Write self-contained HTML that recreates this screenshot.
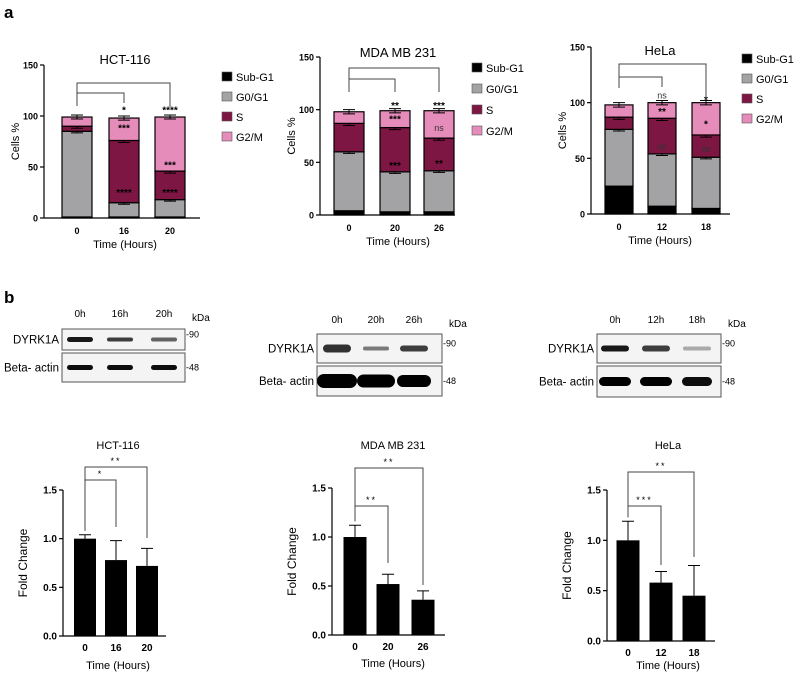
<!DOCTYPE html>
<html><head><meta charset="utf-8"><style>
html,body{margin:0;padding:0;background:#fff;}
svg{display:block;font-family:"Liberation Sans",sans-serif;}
</style></head><body>
<svg id="fig" width="800" height="676" viewBox="0 0 800 676" xmlns="http://www.w3.org/2000/svg">
<text x="4" y="18" font-size="17" font-weight="bold">a</text>
<text x="4" y="303" font-size="17" font-weight="bold">b</text>
<g id="blots"></g>
</svg>
<script>
// ---------- data: panel a (cell cycle %) ----------
const hctCats=["0","16","20"];
const hctSub=[1,1,1];
const hctG0=[84,14,17];
const hctS=[5,61,28];
const hctG2=[9,22,53];
const mdaCats=["0","20","26"];
const mdaSub=[4,3,3];
const mdaG0=[56,38,39];
const mdaS=[27,42,31];
const mdaG2=[11,16,26];
const helaCats=["0","12","18"];
const helaSub=[25,7,5];
const helaG0=[51,47,46];
const helaS=[11,32,20];
const helaG2=[11,14,29];
const stackErr=[1,1.5,2,2];
const stackTicks=[0,50,100,150];
const phaseNames=["Sub-G1","G0/G1","S","G2/M"];
// annotations: [barIndex, value, text]
const hctAnn=[[1,106,"*"],[2,106,"****"],[1,88,"***"],[1,25,"****"],[2,52,"***"],[2,25,"****"]];
const mdaAnn=[[1,104,"**"],[2,104,"***"],[1,91,"***"],[1,47,"***"],[2,83,"ns"],[2,49,"**"]];
const helaAnn=[[1,107,"ns"],[2,103,"*"],[1,92,"**"],[1,61,"ns"],[2,81,"*"],[2,59,"ns"]];
// ---------- data: panel b (fold change) ----------
const fcTicks=[0,0.5,1.0,1.5];
const hctFC=[1.0,0.78,0.72];
const hctFCerr=[0.04,0.2,0.18];
const mdaFC=[1.0,0.52,0.36];
const mdaFCerr=[0.12,0.1,0.09];
const helaFC=[1.0,0.58,0.45];
const helaFCerr=[0.19,0.11,0.3];

const NS="http://www.w3.org/2000/svg";
const svg=document.getElementById('fig');
function mk(tag,attrs,parent){const e=document.createElementNS(NS,tag);for(const k in attrs)e.setAttribute(k,attrs[k]);(parent||svg).appendChild(e);return e;}
function txt(s,attrs,parent){const e=mk('text',attrs,parent);e.textContent=s;return e;}
const colors=["#000000","#a3a3a5","#7d1642","#e68cba"];

function stacked(o){
  const g=mk('g',{});
  
  
  const ys=v=>o.y0-(v/150)*(o.y0-o.y150);
  const ya=mk('line',{x1:o.ax,y1:o.y150,x2:o.ax,y2:o.y0,stroke:'#000','stroke-width':1.2},g);
  
  const xa=mk('line',{x1:o.ax,y1:o.y0,x2:o.axEnd,y2:o.y0,stroke:'#000','stroke-width':1.2},g);
  
  stackTicks.forEach(t=>{
    const l=mk('line',{x1:o.ax-4,y1:ys(t),x2:o.ax,y2:ys(t),stroke:'#000','stroke-width':1.2},g);
    
    const tl=txt(String(t),{x:o.ax-6,y:ys(t)+3.5,'font-size':9,'font-weight':'bold','text-anchor':'end'},g);
    
  });
  const series=[o.sub,o.g0,o.s,o.g2];
  o.cats.forEach((c,i)=>{
    let base=0;
    const cx=o.centers[i];
    series.forEach((ser,k)=>{
      const top=base+ser[i];
      const r=mk('rect',{x:cx-o.bw/2,y:ys(top),width:o.bw,height:ys(base)-ys(top),fill:colors[k],stroke:'#000','stroke-width':1.2},g);
      
      
      const e=stackErr[k];
      const eb=mk('path',{d:`M${cx},${ys(top-e)}V${ys(top+e)}M${cx-6},${ys(top+e)}H${cx+6}M${cx-6},${ys(top-e)}H${cx+6}`,stroke:'#000','stroke-width':1,fill:'none'},g);
      
      base=top;
    });
    const xl=txt(c,{x:cx,y:o.y0+16,'font-size':9,'font-weight':'bold','text-anchor':'middle'},g);
    
  });
  o.ann.forEach(a=>{
    const t=txt(a[2],{x:o.centers[a[0]],y:ys(a[1])+3.5,'font-size':a[2]==='ns'?9:10,'font-weight':a[2]==='ns'?'normal':'bold','text-anchor':'middle',fill:a[2]==='ns'?'#333':'#000'},g);
    
  });
  const c0=o.centers[0],c1=o.centers[1],c2=o.centers[2];
  const b1=mk('path',{d:`M${c0},${o.br[2]}V${o.br[0]}H${c2}V${o.br[3]}`,stroke:'#444','stroke-width':1,fill:'none'},g);
  
  const b2=mk('path',{d:`M${c0},${o.br[2]}V${o.br[1]}H${c1}V${o.br[4]}`,stroke:'#444','stroke-width':1,fill:'none'},g);
  
  const ti=txt(o.title,{x:o.tx,y:o.ty,'font-size':13,'text-anchor':'middle'},g);
  
  const xt=txt('Time (Hours)',{x:o.tx,y:o.y0+30,'font-size':11,'text-anchor':'middle'},g);
  
  const yt=txt('Cells %',{x:0,y:0,'font-size':11,'text-anchor':'middle',transform:`translate(${o.ax-25},${(o.y0+o.y150)/2}) rotate(-90)`},g);
  
  phaseNames.forEach((n,k)=>{
    const ly=o.ly+k*o.lstep;
    const lg=mk('g',{},g);
    
    
    mk('rect',{x:o.lx,y:ly-5,width:10,height:9,fill:colors[k],stroke:'#555','stroke-width':0.6},lg);
    txt(n,{x:o.lx+14,y:ly+4,'font-size':11},lg);
  });
}
stacked({name:'chart-hct116-cell-cycle',title:'HCT-116',cats:hctCats,sub:hctSub,g0:hctG0,s:hctS,g2:hctG2,ann:hctAnn,
  ax:44,axEnd:200,y0:218,y150:65,centers:[77,124,170],bw:30,tx:125,ty:64,lx:222,ly:77,lstep:20,br:[83,93,106,107,103]});
stacked({name:'chart-mda-cell-cycle',title:'MDA MB 231',cats:mdaCats,sub:mdaSub,g0:mdaG0,s:mdaS,g2:mdaG2,ann:mdaAnn,
  ax:320,axEnd:455,y0:215,y150:57,centers:[349,395,439],bw:30,tx:398,ty:57,lx:472,ly:68,lstep:21,br:[68,79,92,92,92]});
stacked({name:'chart-hela-cell-cycle',title:'HeLa',cats:helaCats,sub:helaSub,g0:helaG0,s:helaS,g2:helaG2,ann:helaAnn,
  ax:591,axEnd:730,y0:214,y150:47,centers:[619,662,706],bw:28,tx:660,ty:55,lx:742,ly:59,lstep:20,br:[64,77,88,100,87]});

function fold(o){
  const g=mk('g',{});
  
  
  const ys=v=>o.y0-(v/1.5)*(o.y0-o.y15);
  const ya=mk('line',{x1:o.ax,y1:o.y15,x2:o.ax,y2:o.y0,stroke:'#000','stroke-width':1.2},g);
  
  const xa=mk('line',{x1:o.ax,y1:o.y0,x2:o.axEnd,y2:o.y0,stroke:'#000','stroke-width':1.2},g);
  
  fcTicks.forEach(t=>{
    const l=mk('line',{x1:o.ax-4,y1:ys(t),x2:o.ax,y2:ys(t),stroke:'#000','stroke-width':1.2},g);
    
    const tl=txt(t.toFixed(1),{x:o.ax-6,y:ys(t)+3.5,'font-size':10,'font-weight':'bold','text-anchor':'end'},g);
    
  });
  o.cats.forEach((c,i)=>{
    const cx=o.centers[i];
    const v=o.vals[i],e=o.errs[i];
    const eb=mk('path',{d:`M${cx},${ys(v)}V${ys(v+e)}M${cx-6},${ys(v+e)}H${cx+6}`,stroke:'#000','stroke-width':1,fill:'none'},g);
    
    const r=mk('rect',{x:cx-o.bw/2,y:ys(v),width:o.bw,height:ys(0)-ys(v),fill:'#000'},g);
    
    const xl=txt(c,{x:cx,y:o.y0+15,'font-size':10,'font-weight':'bold','text-anchor':'middle'},g);
    
  });
  const c0=o.centers[0],c1=o.centers[1],c2=o.centers[2];
  const left=ys(o.vals[0]+o.errs[0])-4;
  const b1=mk('path',{d:`M${c0},${left}V${o.br[0]}H${c2}V${o.br[2]}`,stroke:'#444','stroke-width':1,fill:'none'},g);
  
  const b2=mk('path',{d:`M${c0},${left}V${o.br[1]}H${c1}V${o.br[3]}`,stroke:'#444','stroke-width':1,fill:'none'},g);
  
  const s1=txt(o.stars[0],{x:(c0+c2)/2,y:o.br[0]-3,'font-size':9,'text-anchor':'middle','letter-spacing':2},g);
  
  const s2=txt(o.stars[1],{x:(c0+c1)/2,y:o.br[1]-3,'font-size':9,'text-anchor':'middle','letter-spacing':2},g);
  
  const ti=txt(o.title,{x:o.tx,y:o.ty,'font-size':11,'text-anchor':'middle'},g);
  
  const xt=txt('Time (Hours)',{x:o.tx,y:o.xty,'font-size':11,'text-anchor':'middle'},g);
  
  const yt=txt('Fold Change',{x:0,y:0,'font-size':12,'text-anchor':'middle',transform:`translate(${o.ax-36},${(o.y0+o.y15)/2}) rotate(-90)`},g);
  
}
fold({name:'chart-hct116-fold-change',title:'HCT-116',cats:hctCats,vals:hctFC,errs:hctFCerr,ax:63,axEnd:166,y0:636,y15:490,centers:[85,116,147],bw:22,tx:118,ty:449,xty:669,br:[467,480,538,527],stars:['**','*']});
fold({name:'chart-mda-fold-change',title:'MDA MB 231',cats:mdaCats,vals:mdaFC,errs:mdaFCerr,ax:332,axEnd:445,y0:635,y15:488,centers:[355,388,423],bw:23,tx:393,ty:449,xty:667,br:[468,506,585,563],stars:['**','**']});
fold({name:'chart-hela-fold-change',title:'HeLa',cats:helaCats,vals:helaFC,errs:helaFCerr,ax:607,axEnd:715,y0:641,y15:490,centers:[628,661,694],bw:23,tx:668,ty:449,xty:669,br:[472,506,557,565],stars:['**','***']});

// ---------- western blots ----------
const blotG=document.getElementById('blots');
function blot(o){
  const g=mk('g',{},blotG);
  
  
  const w=o.x2-o.x1;
  [[o.b1y1,o.b1y2,'DYRK1A',o.dyrk,'-90'],[o.b2y1,o.b2y2,'Beta- actin',o.actin,'-48']].forEach((row,ri)=>{
    const box=mk('rect',{x:o.x1,y:row[0],width:w,height:row[1]-row[0],fill:'#f4f4f4',stroke:'#555','stroke-width':1},g);
    
    const my=(row[0]+row[1])/2;
    row[3].forEach((b,i)=>{
      const band=mk('rect',{x:o.lanes[i]-b[1]/2,y:my-b[2]/2,width:b[1],height:b[2],rx:b[2]/2,fill:'#000','fill-opacity':b[0]},g);
      
    });
    const lab=txt(row[2],{x:o.x1-3,y:my+4,'font-size':11.5,'text-anchor':'end'},g);
    
    const kd=txt(row[4],{x:o.x2+1,y:my+ (ri?3:-2),'font-size':9},g);
    
  });
  o.lanes.forEach((x,i)=>{
    const l=txt(o.laneLabels[i],{x:x,y:o.ly,'font-size':10,'text-anchor':'middle'},g);
    
  });
  const k=txt('kDa',{x:o.x2+7,y:o.ly+4,'font-size':10},g);
  
}
blot({name:'blot-hct116',x1:62,x2:185,b1y1:329,b1y2:350,b2y1:353,b2y2:382,lanes:[80,120,164],laneLabels:['0h','16h','20h'],ly:317,
  dyrk:[[0.9,26,5],[0.75,26,4],[0.6,26,4]],actin:[[0.95,26,5],[0.95,26,5],[0.95,26,5]]});
blot({name:'blot-mda',x1:317,x2:442,b1y1:334,b1y2:363,b2y1:366,b2y2:396,lanes:[337,376,414],laneLabels:['0h','20h','26h'],ly:323,
  dyrk:[[0.8,28,8],[0.5,26,4],[0.75,28,6]],actin:[[1,40,14],[1,38,13],[1,34,12]]});
blot({name:'blot-hela',x1:597,x2:721,b1y1:334,b1y2:363,b2y1:366,b2y2:397,lanes:[615,656,697],laneLabels:['0h','12h','18h'],ly:323,
  dyrk:[[0.9,28,6],[0.75,28,6],[0.3,28,4]],actin:[[1,32,9],[1,32,9],[0.95,30,9]]});
</script>
</body></html>
